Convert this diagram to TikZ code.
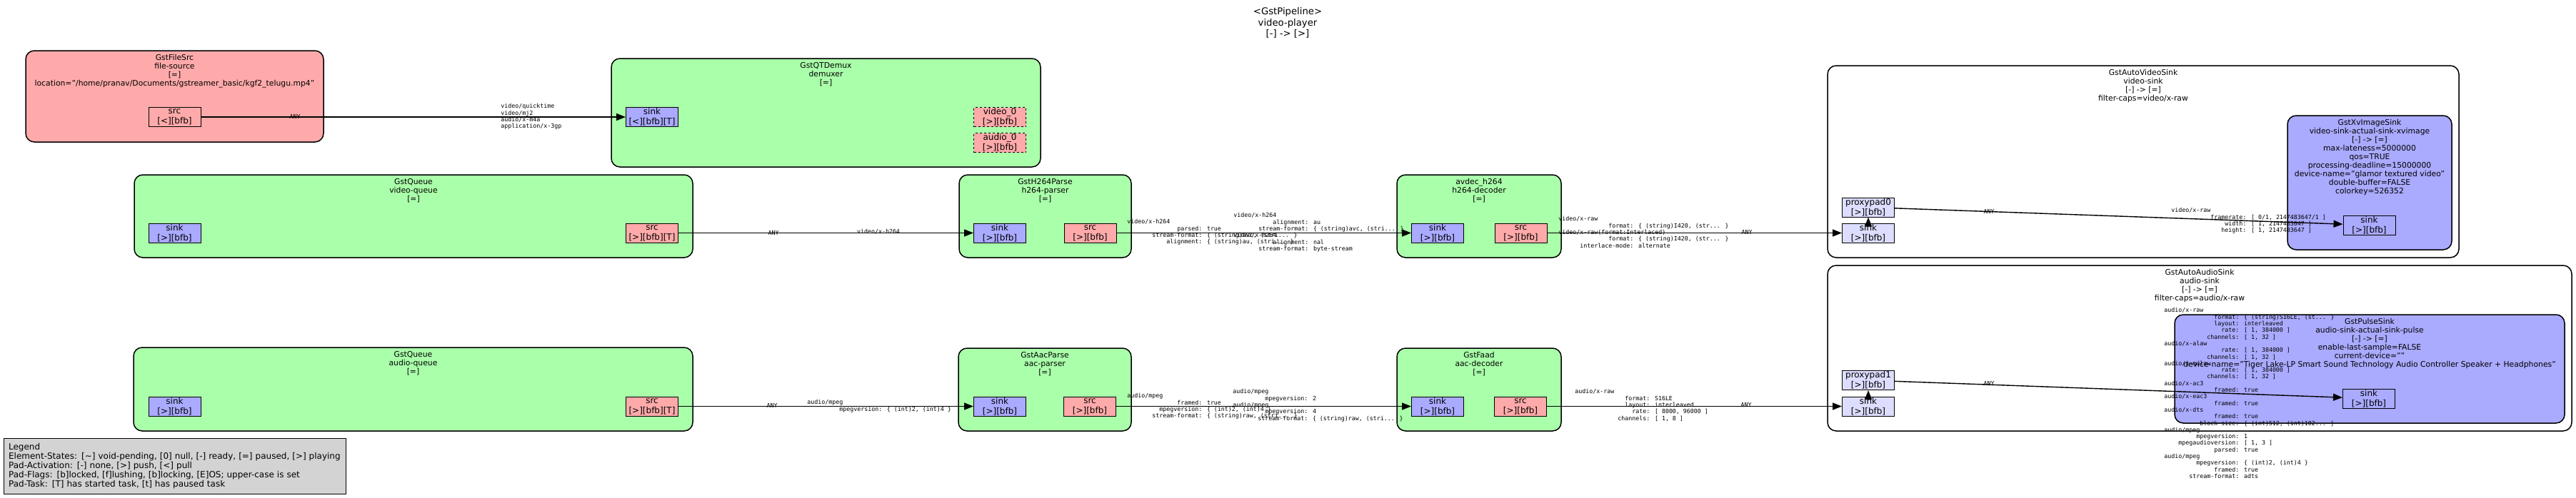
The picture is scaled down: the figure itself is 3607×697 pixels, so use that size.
\documentclass[tikz,border=0pt]{standalone}
\usepackage{fontspec}
\setmainfont{DejaVu Sans}
\newfontfamily\capsfont{DejaVu Sans Mono}
\usetikzlibrary{arrows.meta,fit,positioning}

\definecolor{srcred}{HTML}{FFAAAA}
\definecolor{sinkblue}{HTML}{AAAAFF}
\definecolor{elemgreen}{HTML}{AAFFAA}
\definecolor{proxyblue}{HTML}{DDDDFF}
\definecolor{legendgray}{HTML}{D3D3D3}

% one caps field, name right-aligned in 20 columns
\newcommand{\fld}[2]{\makebox[12.04em][r]{#1}: #2}

\tikzset{
  elem/.style={draw, rounded corners=6pt, inner sep=0pt, line width=0.75pt},
  eltitle/.style={font=\fontsize{5.4}{6}\selectfont, align=center, inner sep=0pt},
  pad/.style={draw, line width=0.5pt, minimum width=36.5pt, minimum height=13.5pt,
    inner sep=0pt, align=center, font=\fontsize{6}{7}\selectfont},
  srcpad/.style={pad, fill=srcred},
  sinkpad/.style={pad, fill=sinkblue},
  proxypad/.style={pad, fill=proxyblue},
  capslabel/.style={font=\capsfont\fontsize{4.15}{4.65}\selectfont, inner sep=0pt,
    align=left, anchor=north west},
  anylabel/.style={font=\capsfont\fontsize{4.15}{4.65}\selectfont, inner sep=0pt},
  link/.style={->, line width=0.7pt},
}

\begin{document}
\begin{tikzpicture}[>={Triangle[length=6.5pt,width=5pt]}, x=0.5pt, y=-0.5pt]
\useasboundingbox (0,0) rectangle (3607,697);

\node[font=\fontsize{6.6}{7.7}\selectfont, align=center, inner sep=0pt, anchor=north] (pipeline) at (1803,10.5) {<GstPipeline>\\video-player\\{}[-] -> [>]};

\node[draw, fill=legendgray, line width=0.6pt, anchor=north west, text width=233pt, minimum height=39pt, inner xsep=3.25pt, inner ysep=0pt, align=left, font=\fontsize{6}{6.5}\selectfont] (legend) at (5,614) {Legend\\Element-States: [\textasciitilde] void-pending, [0] null, [-] ready, [=] paused, [>] playing\\Pad-Activation: [-] none, [>] push, [<] pull\\Pad-Flags: [b]locked, [f]lushing, [b]locking, [E]OS; upper-case is set\\Pad-Task: [T] has started task, [t] has paused task};

% bins
\node[elem, fill=white, fit={(2559,92) (3443,361)}] (vsink) {};
\node[eltitle, below=2.75pt of vsink.north] (vsinkT) {GstAutoVideoSink\\video-sink\\{}[-] -> [=]\\filter-caps=video/x-raw};
\node[elem, fill=white, fit={(2559,372) (3601,604)}] (asink) {};
\node[eltitle, below=2.75pt of asink.north] (asinkT) {GstAutoAudioSink\\audio-sink\\{}[-] -> [=]\\filter-caps=audio/x-raw};

% elements
\node[elem, fill=srcred, fit={(36,71) (453,199)}] (fsrc) {};
\node[eltitle, below=2.75pt of fsrc.north] (fsrcT) {GstFileSrc\\file-source\\{}[=]\\location="/home/pranav/Documents/gstreamer\_basic/kgf2\_telugu.mp4"};
\node[elem, fill=elemgreen, fit={(856,82) (1457,234)}] (demux) {};
\node[eltitle, below=2.75pt of demux.north] (demuxT) {GstQTDemux\\demuxer\\{}[=]};
\node[elem, fill=elemgreen, fit={(188,245) (970,361)}] (vqueue) {};
\node[eltitle, below=2.75pt of vqueue.north] (vqueueT) {GstQueue\\video-queue\\{}[=]};
\node[elem, fill=elemgreen, fit={(1343,245) (1584,361)}] (hparse) {};
\node[eltitle, below=2.75pt of hparse.north] (hparseT) {GstH264Parse\\h264-parser\\{}[=]};
\node[elem, fill=elemgreen, fit={(1956,245) (2186,361)}] (hdec) {};
\node[eltitle, below=2.75pt of hdec.north] (hdecT) {avdec\_h264\\h264-decoder\\{}[=]};
\node[elem, fill=sinkblue, fit={(3203,162) (3433,350)}] (xv) {};
\node[eltitle, below=2.75pt of xv.north] (xvT) {GstXvImageSink\\video-sink-actual-sink-xvimage\\{}[-] -> [=]\\max-lateness=5000000\\qos=TRUE\\processing-deadline=15000000\\device-name="glamor textured video"\\double-buffer=FALSE\\colorkey=526352};
\node[elem, fill=elemgreen, fit={(187,487) (970,604)}] (aqueue) {};
\node[eltitle, below=2.75pt of aqueue.north] (aqueueT) {GstQueue\\audio-queue\\{}[=]};
\node[elem, fill=elemgreen, fit={(1342,488) (1584,604)}] (aparse) {};
\node[eltitle, below=2.75pt of aparse.north] (aparseT) {GstAacParse\\aac-parser\\{}[=]};
\node[elem, fill=elemgreen, fit={(1956,488) (2186,604)}] (adec) {};
\node[eltitle, below=2.75pt of adec.north] (adecT) {GstFaad\\aac-decoder\\{}[=]};
\node[elem, fill=sinkblue, fit={(3045,441) (3591,593)}] (pulse) {};
\node[eltitle, below=2.75pt of pulse.north] (pulseT) {GstPulseSink\\audio-sink-actual-sink-pulse\\{}[-] -> [=]\\enable-last-sample=FALSE\\current-device=""\\device-name="Tiger Lake-LP Smart Sound Technology Audio Controller Speaker + Headphones"};

% pads
\node[srcpad] (fsrcSrc) at (244.5,164) {src\\{}[<][bfb]};
\node[sinkpad] (demuxSink) at (913,164) {sink\\{}[<][bfb][T]};
\node[srcpad, dash pattern=on 1.5pt off 1.5pt] (demuxV) at (1400,164) {video\_0\\{}[>][bfb]};
\node[srcpad, dash pattern=on 1.5pt off 1.5pt] (demuxA) at (1400,200) {audio\_0\\{}[>][bfb]};
\node[sinkpad] (vqueueSink) at (244.5,326.5) {sink\\{}[>][bfb]};
\node[srcpad] (vqueueSrc) at (913,326.5) {src\\{}[>][bfb][T]};
\node[sinkpad] (hparseSink) at (1400,326.5) {sink\\{}[>][bfb]};
\node[srcpad] (hparseSrc) at (1526.5,326.5) {src\\{}[>][bfb]};
\node[sinkpad] (hdecSink) at (2013,326.5) {sink\\{}[>][bfb]};
\node[srcpad] (hdecSrc) at (2129.5,326.5) {src\\{}[>][bfb]};
\node[proxypad] (vsinkProxy) at (2616,290.5) {proxypad0\\{}[>][bfb]};
\node[proxypad] (vsinkSink) at (2616,326.5) {sink\\{}[>][bfb]};
\node[sinkpad] (xvSink) at (3317.5,315.5) {sink\\{}[>][bfb]};
\node[sinkpad] (aqueueSink) at (244.5,569.5) {sink\\{}[>][bfb]};
\node[srcpad] (aqueueSrc) at (913,569.5) {src\\{}[>][bfb][T]};
\node[sinkpad] (aparseSink) at (1400,569.5) {sink\\{}[>][bfb]};
\node[srcpad] (aparseSrc) at (1526,569.5) {src\\{}[>][bfb]};
\node[sinkpad] (adecSink) at (2013,569.5) {sink\\{}[>][bfb]};
\node[srcpad] (adecSrc) at (2129,569.5) {src\\{}[>][bfb]};
\node[proxypad] (asinkProxy) at (2616,533) {proxypad1\\{}[>][bfb]};
\node[proxypad] (asinkSink) at (2616,569.5) {sink\\{}[>][bfb]};
\node[sinkpad] (pulseSink) at (3317,558.5) {sink\\{}[>][bfb]};

% links
\draw[link] (fsrcSrc) -- (demuxSink);
\draw[link] (vqueueSrc) -- (hparseSink);
\draw[link] (hparseSrc) -- (hdecSink);
\draw[link] (hdecSrc) -- (vsinkSink);
\draw[link] (vsinkSink) -- (vsinkProxy);
\draw[link] (vsinkProxy) -- (xvSink);
\draw[link] (aqueueSrc) -- (aparseSink);
\draw[link] (aparseSrc) -- (adecSink);
\draw[link] (adecSrc) -- (asinkSink);
\draw[link] (asinkSink) -- (asinkProxy);
\draw[link] (asinkProxy) -- (pulseSink);

% caps on the links
\node[anylabel] (fsrcCapsT) at (413,163) {ANY};
\node[capslabel] (fsrcCapsH) at (701,145.2) {video/quicktime\\video/mj2\\audio/x-m4a\\application/x-3gp};
\node[anylabel] (vqueueCapsT) at (1083,326) {ANY};
\node[anylabel] (vqueueCapsH) at (1230,325) {video/x-h264};
\node[capslabel] (hparseCapsT) at (1578,307.2) {video/x-h264\\\fld{parsed}{true}\\\fld{stream-format}{\{ (string)avc, (stri... \}}\\\fld{alignment}{\{ (string)au, (stri... \}}};
\node[capslabel] (hparseCapsH) at (1727,298.2) {video/x-h264\\\fld{alignment}{au}\\\fld{stream-format}{\{ (string)avc, (stri... \}}\\video/x-h264\\\fld{alignment}{nal}\\\fld{stream-format}{byte-stream}};
\node[capslabel] (hdecCapsT) at (2182,303.2) {video/x-raw\\\fld{format}{\{ (string)I420, (str... \}}\\video/x-raw(format:Interlaced)\\\fld{format}{\{ (string)I420, (str... \}}\\\fld{interlace-mode}{alternate}};
\node[anylabel] (hdecCapsH) at (2446,325) {ANY};
\node[anylabel] (vproxyCapsT) at (2785,296) {ANY};
\node[capslabel] (vproxyCapsH) at (3040,291.2) {video/x-raw\\\fld{framerate}{[ 0/1, 2147483647/1 ]}\\\fld{width}{[ 1, 2147483647 ]}\\\fld{height}{[ 1, 2147483647 ]}};
\node[anylabel] (aqueueCapsT) at (1081,568) {ANY};
\node[capslabel] (aqueueCapsH) at (1130,560.2) {audio/mpeg\\\fld{mpegversion}{\{ (int)2, (int)4 \}}};
\node[capslabel] (aparseCapsT) at (1578,551.2) {audio/mpeg\\\fld{framed}{true}\\\fld{mpegversion}{\{ (int)2, (int)4 \}}\\\fld{stream-format}{\{ (string)raw, (stri... \}}};
\node[capslabel] (aparseCapsH) at (1726,545.2) {audio/mpeg\\\fld{mpegversion}{2}\\audio/mpeg\\\fld{mpegversion}{4}\\\fld{stream-format}{\{ (string)raw, (stri... \}}};
\node[capslabel] (adecCapsT) at (2205,545.2) {audio/x-raw\\\fld{format}{S16LE}\\\fld{layout}{interleaved}\\\fld{rate}{[ 8000, 96000 ]}\\\fld{channels}{[ 1, 8 ]}};
\node[anylabel] (adecCapsH) at (2445,567) {ANY};
\node[anylabel] (aproxyCapsT) at (2785,537) {ANY};
\node[capslabel] (aproxyCapsH) at (3030,431.2) {audio/x-raw\\\fld{format}{\{ (string)S16LE, (st... \}}\\\fld{layout}{interleaved}\\\fld{rate}{[ 1, 384000 ]}\\\fld{channels}{[ 1, 32 ]}\\audio/x-alaw\\\fld{rate}{[ 1, 384000 ]}\\\fld{channels}{[ 1, 32 ]}\\audio/x-mulaw\\\fld{rate}{[ 1, 384000 ]}\\\fld{channels}{[ 1, 32 ]}\\audio/x-ac3\\\fld{framed}{true}\\audio/x-eac3\\\fld{framed}{true}\\audio/x-dts\\\fld{framed}{true}\\\fld{block-size}{\{ (int)512, (int)102... \}}\\audio/mpeg\\\fld{mpegversion}{1}\\\fld{mpegaudioversion}{[ 1, 3 ]}\\\fld{parsed}{true}\\audio/mpeg\\\fld{mpegversion}{\{ (int)2, (int)4 \}}\\\fld{framed}{true}\\\fld{stream-format}{adts}};

\end{tikzpicture}
\end{document}
